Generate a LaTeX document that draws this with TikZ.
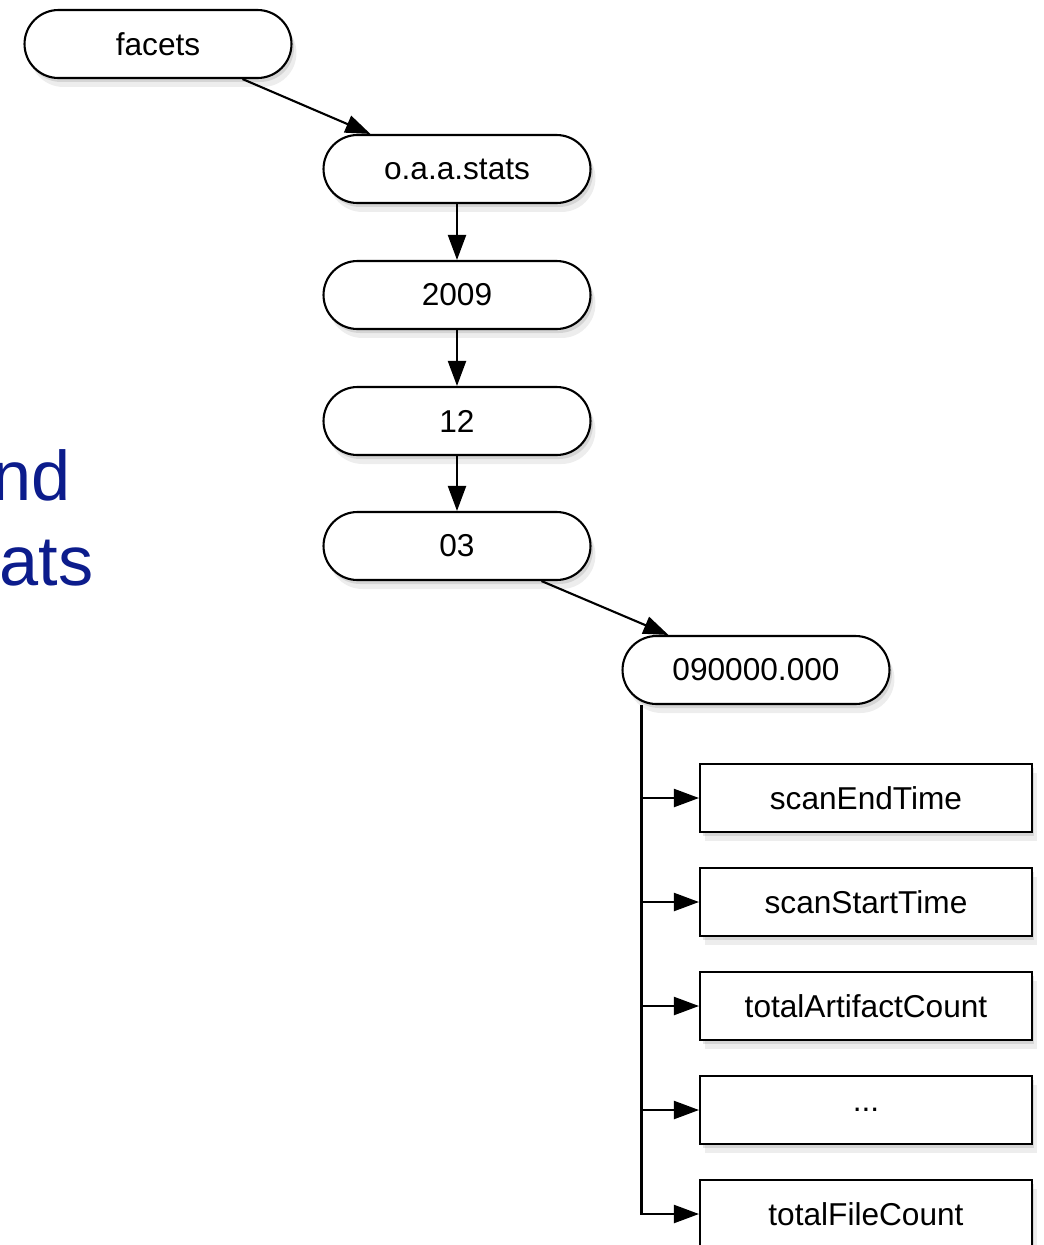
\documentclass[tikz,border=0pt]{standalone}
\usepackage{fontspec}
\setmainfont{Liberation Sans}
\usetikzlibrary{arrows.meta,shadows}
\definecolor{slideblue}{RGB}{12,28,140}

\begin{document}
\begin{tikzpicture}[x=0.02cm, y=-0.02cm, font=\fontsize{18}{20}\selectfont,
    soft/.style={drop shadow={shadow xshift=0.05cm, shadow yshift=-0.08cm, opacity=0.22},
                 drop shadow={shadow xshift=0.10cm, shadow yshift=-0.18cm, opacity=0.14}},
    pill/.style={draw, line width=1.2pt, fill=white, rounded corners=0.68cm,
                 minimum width=5.34cm, minimum height=1.36cm, soft},
    field/.style={draw, line width=1.2pt, fill=white,
                  minimum width=6.64cm, minimum height=1.36cm, soft},
    arr/.style={-{Triangle[length=0.5cm, width=0.36cm]}, line width=1.2pt},
    slide/.style={slideblue, inner sep=0pt, anchor=base east,
                  font=\fontsize{40}{44}\selectfont}]
    \useasboundingbox (0,0) rectangle (1044,1245);
    \clip (0,0) rectangle (1044,1245);
    % text of the slide, cut at the left edge
    \node[slide] (nd)  at (71,500) {nd};
    \node[slide] (ats) at (94,585) {ats};
    % path of the key
    \node[pill] (facets) at (158,44)  {facets};
    \node[pill] (stats)  at (457,169) {o.a.a.stats};
    \node[pill] (year)   at (457,295) {2009};
    \node[pill] (month)  at (457,421) {12};
    \node[pill] (day)    at (457,546) {03};
    \node[pill] (time)   at (756,670) {090000.000};
    % fields under the time
    \node[field] (endt)  at (866,798)  {scanEndTime};
    \node[field] (start) at (866,902)  {scanStartTime};
    \node[field] (arts)  at (866,1006) {totalArtifactCount};
    \node[field] (more)  at (866,1110) {...};
    \node[field] (files) at (866,1214) {totalFileCount};
    \draw[arr] ([xshift=-1cm]facets.south east) -- ([xshift=0.96cm]stats.north west);
    \draw[arr] (stats) -- (year);
    \draw[arr] (year)  -- (month);
    \draw[arr] (month) -- (day);
    \draw[arr] ([xshift=-1cm]day.south east) -- ([xshift=0.94cm]time.north west);
    \coordinate (trunk) at ([xshift=0.40cm]time.south west);
    \draw[arr] (trunk) |- (files.west);
    \foreach \f in {endt,start,arts,more}
      \draw[arr] (trunk |- \f.west) -- (\f.west);
\end{tikzpicture}
\end{document}
